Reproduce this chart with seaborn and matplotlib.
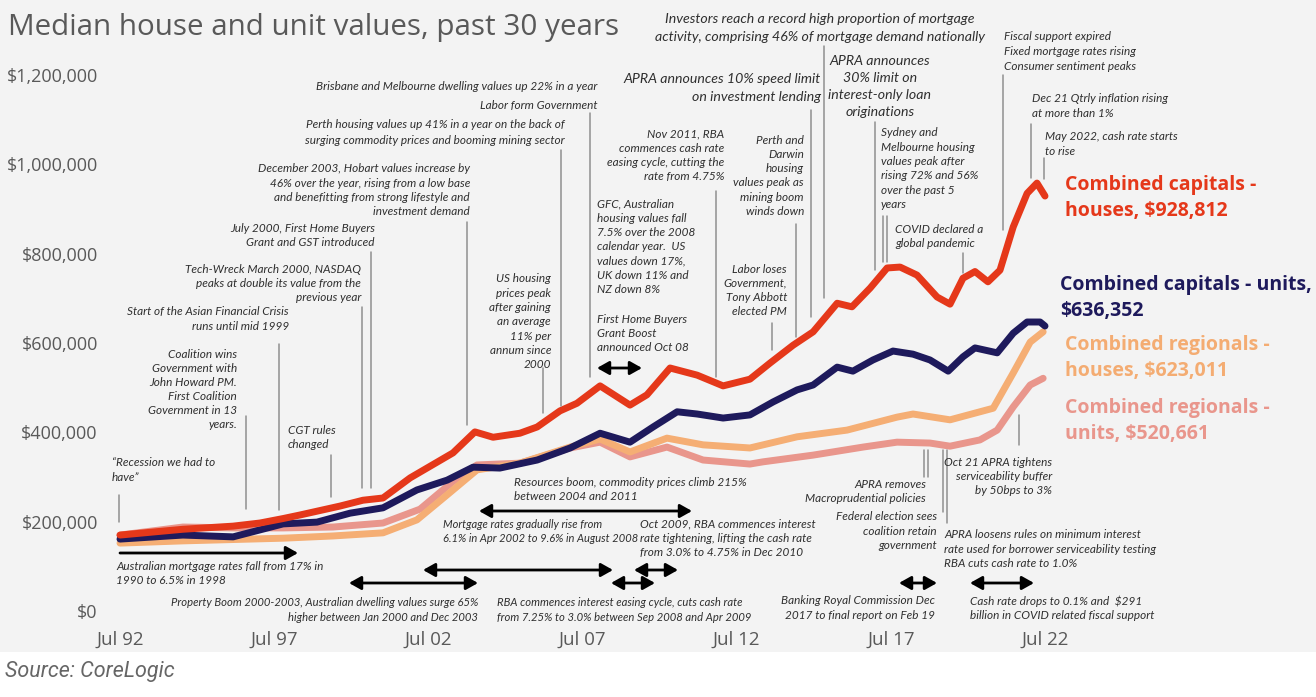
import matplotlib
matplotlib.use("Agg")
import matplotlib.pyplot as plt
import seaborn as sns
import pandas as pd
from matplotlib import font_manager
from matplotlib.patches import FancyArrowPatch, Rectangle
from matplotlib.lines import Line2D

# ---------------- data ----------------
TITLE = "Median house and unit values, past 30 years"
SOURCE = "Source: CoreLogic"

XTICK_POS = [1992.5, 1997.5, 2002.5, 2007.5, 2012.5, 2017.5, 2022.5]
XTICK_LABELS = ["Jul 92", "Jul 97", "Jul 02", "Jul 07", "Jul 12", "Jul 17", "Jul 22"]
YTICK_POS = [0, 200000, 400000, 600000, 800000, 1000000, 1200000]
YTICK_LABELS = ["$0", "$200,000", "$400,000", "$600,000", "$800,000", "$1,000,000", "$1,200,000"]

cap_house_years = [1992.50, 1994.54, 1996.17, 1997.04, 1997.79, 1998.34, 1999.64, 2000.38, 2001.03,
                   2001.91, 2003.30, 2004.01, 2004.60, 2005.47, 2006.03, 2006.77, 2007.32, 2008.07,
                   2009.04, 2009.59, 2010.34, 2011.22, 2012.06, 2012.93, 2013.58, 2014.33, 2014.98,
                   2015.76, 2016.24, 2016.83, 2017.38, 2017.80, 2018.35, 2019.00, 2019.42, 2019.84,
                   2020.23, 2020.65, 2021.04, 2021.47, 2021.92, 2022.24, 2022.50]
cap_house_k = [170, 183, 190, 197, 207, 215, 235, 248, 253,
               298, 354, 401, 389, 398, 412, 448, 465, 504,
               461, 484, 544, 528, 504, 519, 555, 595, 625,
               689, 681, 723, 768, 770, 752, 703, 687, 745,
               760, 737, 763, 860, 935, 958, 929]

cap_unit_years = [1992.50, 1994.54, 1996.17, 1997.79, 1998.89, 1999.96, 2001.03, 2002.13, 2003.11,
                  2003.95, 2004.82, 2006.03, 2007.10, 2008.07, 2009.04, 2009.79, 2010.57, 2011.22,
                  2012.06, 2012.93, 2013.68, 2014.46, 2014.98, 2015.76, 2016.27, 2016.92, 2017.57,
                  2018.22, 2018.77, 2019.36, 2019.84, 2020.23, 2020.95, 2021.47, 2021.92, 2022.34,
                  2022.50]
cap_unit_k = [161, 170, 166, 195, 199, 219, 231, 271, 293,
              322, 320, 338, 365, 398, 378, 412, 446, 441,
              432, 439, 468, 495, 506, 546, 537, 562, 582,
              575, 562, 537, 569, 589, 578, 622, 647, 647,
              638]

reg_house_years = [1992.50, 1994.54, 1997.79, 1999.41, 2001.03, 2002.13, 2003.11, 2004.08, 2005.47,
                   2007.10, 2008.07, 2009.04, 2010.24, 2011.41, 2012.93, 2013.36, 2014.46, 2016.08,
                   2017.70, 2018.22, 2019.42, 2020.39, 2020.82, 2021.47, 2022.02, 2022.44]
reg_house_k = [152, 157, 163, 168, 175, 204, 260, 316, 331,
               367, 385, 356, 387, 372, 365, 372, 390, 405,
               434, 441, 428, 446, 454, 533, 602, 625]

reg_unit_years = [1992.50, 1994.54, 1996.17, 1997.79, 1999.41, 2001.03, 2002.23, 2003.30, 2004.08,
                  2005.47, 2007.10, 2008.07, 2009.04, 2010.24, 2011.41, 2012.93, 2013.36, 2014.98,
                  2016.60, 2017.70, 2018.77, 2019.42, 2020.39, 2020.95, 2021.47, 2022.02, 2022.44]
reg_unit_k = [170, 188, 186, 186, 188, 197, 228, 290, 327,
              331, 365, 378, 345, 367, 338, 329, 334, 349,
              367, 378, 376, 369, 383, 405, 457, 506, 521]

SERIES = [  # drawing order: bottom to top
    ("Combined regionals - units", reg_unit_years, reg_unit_k, "#E9968C"),
    ("Combined regionals - houses", reg_house_years, reg_house_k, "#F5AE74"),
    ("Combined capitals - units", cap_unit_years, cap_unit_k, "#1E1A5C"),
    ("Combined capitals - houses", cap_house_years, cap_house_k, "#E5381A"),
]

END_LABELS = [  # (text lines, colour, left px, first-line y px)
    (["Combined capitals -", "houses, $928,812"], "#E5381A", 1065, 185),
    (["Combined capitals - units,", "$636,352"], "#1E1A5C", 1060, 285),
    (["Combined regionals -", "houses, $623,011"], "#F4AC72", 1065, 345),
    (["Combined regionals -", "units, $520,661"], "#E9968C", 1065, 408),
]

# ---------------- styling ----------------
W, H = 1316, 697
sns.set_theme(style="white")
names = {f.name for f in font_manager.fontManager.ttflist}
if "Liberation Sans Narrow" in names:
    ANN_FAMILY, ANN_SCALE = ["Liberation Sans Narrow", "DejaVu Sans"], 1.0
else:
    ANN_FAMILY, ANN_SCALE = ["Lato", "DejaVu Sans"], 0.97
plt.rcParams["font.family"] = ["Open Sans", "DejaVu Sans"]

fig = plt.figure(figsize=(W / 100, H / 100), dpi=100)
fig.patch.set_facecolor("white")
fig.add_artist(Rectangle((0, 1 - 652 / H), 1, 652 / H, transform=fig.transFigure,
                         facecolor="#f3f3f3", edgecolor="none", zorder=-10))

ax = fig.add_axes([120 / W, 1 - 611 / H, 925 / W, 536 / H])
ax.patch.set_alpha(0)

for name, yrs, vals, col in SERIES:
    df = pd.DataFrame({"year": yrs, "value": [v * 1000 for v in vals]})
    sns.lineplot(data=df, x="year", y="value", ax=ax, color=col, linewidth=5,
                 estimator=None, sort=True, solid_capstyle="round", solid_joinstyle="round")
for ln in ax.lines:
    ln.set_clip_on(False)

ax.set_xlim(1992.5, 2022.5)
ax.set_ylim(0, 1200000)
ax.set_xticks(XTICK_POS)
ax.set_xticklabels(XTICK_LABELS)
ax.set_yticks(YTICK_POS)
ax.set_yticklabels(YTICK_LABELS)
ax.set_xlabel("")
ax.set_ylabel("")
ax.tick_params(axis="x", length=0, pad=14, labelsize=13.5, labelcolor="#595959")
ax.tick_params(axis="y", length=0, pad=16, labelsize=13, labelcolor="#595959")
sns.despine(ax=ax, left=True, bottom=True)
ax.grid(False)

# ---------------- texts & annotations (pixel layout helpers) ----------------
def fx(px):
    return px / W

def fy(py):
    return 1 - py / H

def block(ha, px, y0, lines, size=8.7, step=14.3):
    for i, s in enumerate(lines):
        fig.text(fx(px), fy(y0 + i * step), s, ha={"l": "left", "r": "right", "c": "center"}[ha],
                 va="center", fontsize=size * ANN_SCALE, style="italic",
                 fontfamily=ANN_FAMILY, color="#2f2f2f")

def vline(px, y0, y1):
    fig.add_artist(Line2D([fx(px), fx(px)], [fy(y0), fy(y1)], color="#8f8f8f", lw=1.1,
                          transform=fig.transFigure))

def arrow(x0, x1, py, both=True):
    style = "<|-|>,head_length=0.8,head_width=0.45" if both else "-|>,head_length=0.8,head_width=0.45"
    fig.add_artist(FancyArrowPatch((fx(x0), fy(py)), (fx(x1), fy(py)), transform=fig.transFigure,
                                   arrowstyle=style, mutation_scale=9, lw=2, color="black",
                                   shrinkA=0, shrinkB=0))

fig.text(fx(8), fy(28), TITLE, fontsize=21.3, color="#595959", va="center", ha="left")
fig.text(fx(5), fy(672), SOURCE, fontsize=15.5, color="#666666", va="center", ha="left",
         style="italic", fontfamily=["Roboto", "DejaVu Sans"])

for lines, col, px, py in END_LABELS:
    for i, s in enumerate(lines):
        fig.text(fx(px), fy(py + i * 26), s, fontsize=14, fontweight="bold", color=col,
                 va="center", ha="left")

# top-left group
block("r", 597, 87, ["Brisbane and Melbourne dwelling values up 22% in a year"])
block("r", 597, 105, ["Labor form Government"])
vline(590, 113, 377)
block("r", 565, 125, ["Perth housing values up 41% in a year on the back of",
                      "surging commodity prices and booming mining sector"], step=15)
vline(561, 150, 406)
block("r", 470, 169, ["December 2003, Hobart values increase by", "46% over the year, rising from a low base",
                      "and benefitting from strong lifestyle and", "investment demand"])
vline(467, 222, 425)
block("r", 375, 228, ["July 2000, First Home Buyers", "Grant and GST introduced"])
vline(371, 252, 488)
block("r", 361, 269, ["Tech-Wreck March 2000, NASDAQ", "peaks at double its value from the", "previous year"])
vline(362, 307, 488)
block("r", 289, 312, ["Start of the Asian Financial Crisis", "runs until mid 1999"])
vline(279, 344, 510)
block("r", 237, 354, ["Coalition wins", "Government with", "John Howard PM.", "First Coalition",
                      "Government in 13", "years."], step=14.2)
vline(246, 416, 509)
block("l", 288, 430, ["CGT rules", "changed"])
vline(331, 455, 497)
block("l", 112, 463, ["\u201cRecession we had to", "have\u201d"])
vline(119, 495, 522)

# middle group
block("r", 551, 279, ["US housing", "prices peak", "after gaining", "an average", "11% per",
                      "annum since", "2000"])
vline(543, 368, 413)
block("l", 597, 204, ["GFC, Australian", "housing values fall", "7.5% over the 2008", "calendar year.  US",
                      "values down 17%,", "UK down 11% and", "NZ down 8%"])
block("l", 597, 319, ["First Home Buyers", "Grant Boost", "announced Oct 08"])
arrow(597, 642, 368)
block("r", 724, 134, ["Nov 2011, RBA", "commences cash rate", "easing cycle, cutting the", "rate from 4.75%"])
vline(716, 191, 377)
block("r", 804, 140, ["Perth and", "Darwin", "housing", "values peak as", "mining boom", "winds down"])
vline(796, 224, 337)
block("r", 787, 269, ["Labor loses", "Government,", "Tony Abbott", "elected PM"])
vline(772, 323, 350)

# large top annotations
block("r", 821, 79, ["APRA announces 10% speed limit", "on investment lending"], size=10.5, step=18)
vline(811, 110, 317)
block("c", 820, 19, ["Investors reach a record high proportion of mortgage",
                     "activity, comprising 46% of mortgage demand nationally"], size=10.5, step=18)
vline(824, 46, 298)
block("c", 880, 61, ["APRA announces", "30% limit on", "interest-only loan", "originations"],
      size=10.5, step=17)

# right group
block("l", 881, 133, ["Sydney and", "Melbourne housing", "values peak after", "rising 72% and 56%",
                      "over the past 5", "years"])
vline(875, 122, 270)
vline(883, 216, 262)
vline(887, 216, 262)
block("l", 895, 229, ["COVID declared a", "global pandemic"])
vline(963, 253, 273)
block("l", 1004, 37, ["Fiscal support expired", "Fixed mortgage rates rising", "Consumer sentiment peaks"],
      step=14.5)
vline(1003, 75, 230)
block("l", 1032, 99, ["Dec 21 Qtrly inflation rising", "at more than 1%"])
vline(1031, 124, 178)
block("l", 1045, 137, ["May 2022, cash rate starts", "to rise"])
vline(1044, 158, 179)

# bottom group
block("l", 514, 482, ["Resources boom, commodity prices climb 215%", "between 2004 and 2011"])
arrow(479, 692, 511)
block("l", 443, 524, ["Mortgage rates gradually rise from", "6.1% in Apr 2002 to 9.6% in August 2008"],
      size=8.25)
arrow(423, 613, 570)
block("l", 640, 524, ["Oct 2009, RBA commences interest", "rate tightening, lifting the cash rate",
                      "from 3.0% to 4.75% in Dec 2010"])
arrow(634, 678, 570)
arrow(611, 655, 583)
block("l", 497, 603, ["RBA commences interest easing cycle, cuts cash rate",
                      "from 7.25% to 3.0% between Sep 2008 and Apr 2009"], size=8.4)
block("r", 478, 603, ["Property Boom 2000-2003, Australian dwelling values surge 65%",
                      "higher between Jan 2000 and Dec 2003"], size=8.4)
arrow(349, 478, 583)
block("l", 116, 566, ["Australian mortgage rates fall from 17% in", "1990 to 6.5% in 1998"])
arrow(120, 298, 553, both=False)
block("r", 935, 601, ["Banking Royal Commission Dec", "2017 to final report on Feb 19"])
arrow(899, 937, 583)
block("l", 970, 601, ["Cash rate drops to 0.1% and  $291", "billion in COVID related fiscal support"])
arrow(970, 1034, 583)
block("l", 944, 535, ["APRA loosens rules on minimum interest", "rate used for borrower serviceability testing",
                      "RBA cuts cash rate to 1.0%"])
block("r", 937, 517, ["Federal election sees", "coalition retain", "government"])
block("r", 926, 484, ["APRA removes", "Macroprudential policies"])
vline(924, 450, 477)
vline(928, 450, 477)
vline(943, 450, 512)
vline(947, 450, 523)
block("r", 1052, 462, ["Oct 21 APRA tightens", "serviceability buffer", "by 50bps to 3%"])
vline(1019, 415, 445)

fig.savefig("out.png", dpi=100, facecolor=fig.get_facecolor())
